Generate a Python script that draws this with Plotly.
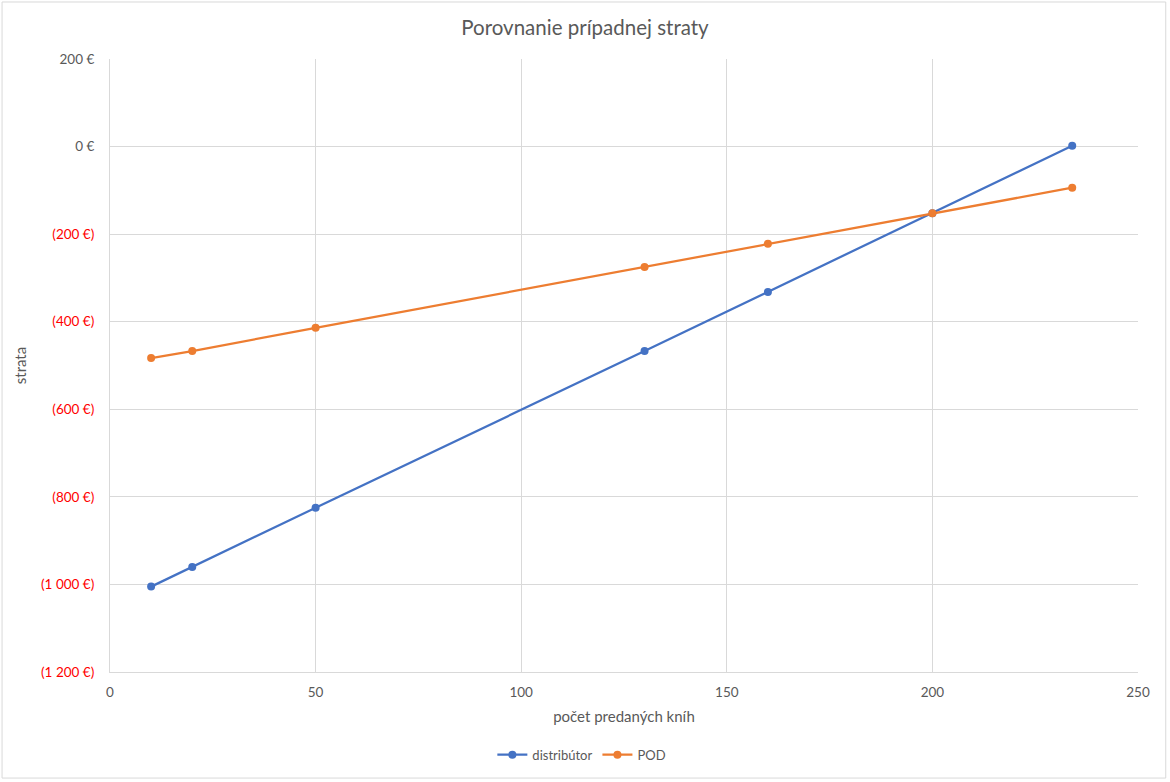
import plotly.graph_objects as go

# values
knihy = [10, 20, 50, 130, 160, 200, 234]
distributor = [-1005, -960, -825, -467, -332, -152, 2]
pod = [-483, -467, -414, -275, -222, -152, -94]

y_ticks = [200, 0, -200, -400, -600, -800, -1000, -1200]
y_labels = ["200 €", "0 €", "(200 €)", "(400 €)", "(600 €)",
            "(800 €)", "(1 000 €)", "(1 200 €)"]

BLUE = "#4472c4"
ORANGE = "#ed7d31"
GREY = "#595959"
GRID = "#d9d9d9"
FONT = "Lato, 'Open Sans', sans-serif"

# negative amounts shown in red, like the Excel number format
tick_text = [
    f'<span style="color:#ff0000">{t}</span>' if v < 0 else t
    for v, t in zip(y_ticks, y_labels)
]

fig = go.Figure()
fig.add_trace(go.Scatter(
    x=knihy, y=distributor, mode="lines+markers", name="distribútor",
    line=dict(color=BLUE, width=2.25),
    marker=dict(color=BLUE, size=8),
))
fig.add_trace(go.Scatter(
    x=knihy, y=pod, mode="lines+markers", name="POD",
    line=dict(color=ORANGE, width=2.25),
    marker=dict(color=ORANGE, size=8),
))

fig.update_layout(
    width=1170, height=782,
    paper_bgcolor="white", plot_bgcolor="white",
    font=dict(family=FONT, color=GREY, size=13),
    title=dict(text="Porovnanie prípadnej straty", x=0.5, xanchor="center",
               y=0.964, yanchor="middle", font=dict(size=20.5, color=GREY)),
    margin=dict(l=110, r=32, t=59, b=110),
    showlegend=True,
    legend=dict(orientation="h", x=0.459, xanchor="center", y=-0.135,
                yanchor="middle", font=dict(size=13, color=GREY)),
    xaxis=dict(
        range=[0, 250], tickvals=[0, 50, 100, 150, 200, 250],
        showgrid=True, gridcolor=GRID, gridwidth=1,
        zeroline=False, showline=True, linecolor=GRID, linewidth=1, ticks="",
        ticklabelstandoff=8,
        tickfont=dict(size=13.5, color=GREY),
        title=dict(text="počet predaných kníh", font=dict(size=15, color=GREY),
                   standoff=12),
    ),
    yaxis=dict(
        range=[-1200, 200], tickvals=y_ticks, ticktext=tick_text,
        showgrid=True, gridcolor=GRID, gridwidth=1,
        zeroline=True, zerolinecolor=GRID, zerolinewidth=1,
        showline=True, linecolor=GRID, linewidth=1, ticks="",
        ticklabelstandoff=12,
        tickfont=dict(size=13.5, color=GREY),
        title=dict(text="strata", font=dict(size=15, color=GREY), standoff=10),
    ),
    # thin frame round the whole chart
    shapes=[dict(type="rect", xref="paper", yref="paper",
                 x0=-0.105, x1=1.027, y0=-0.173, y1=1.093,
                 line=dict(color=GRID, width=1), layer="below")],
)

# drop the default body margin so the figure sits at the page corner
fig.write_html("out.html", config={"displayModeBar": False},
               post_script="document.body.style.margin='0';")
